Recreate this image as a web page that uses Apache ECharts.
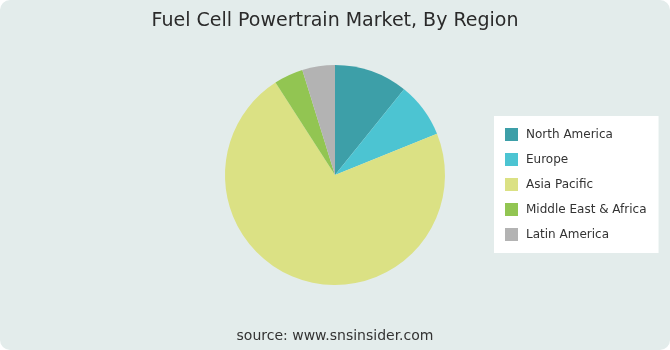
<!DOCTYPE html>
<html><head><meta charset="utf-8">
<script src="https://cdn.jsdelivr.net/npm/echarts@6/dist/echarts.min.js"></script>
<style>html,body{margin:0;padding:0;background:#fff}#c{width:670px;height:350px;background:#e3eceb;border-radius:10px;overflow:hidden}</style>
</head><body><div id="c"></div>
<script>
const categories = ["North America", "Europe", "Asia Pacific", "Middle East & Africa", "Latin America"];
const values = [10.8, 8.1, 72.0, 4.3, 4.8];
const colors = ["#3d9fa8", "#4cc4d2", "#dbe184", "#92c552", "#b3b3b3"];
const titleText = "Fuel Cell Powertrain Market, By Region";
const sourceText = "source: www.snsinsider.com";

const chart = echarts.init(document.getElementById('c'), null, {renderer: 'canvas'});
chart.setOption({
  backgroundColor: 'transparent',
  animation: false,
  color: colors,
  title: {
    text: titleText, left: 'center', top: 7,
    textStyle: {fontFamily: 'DejaVu Sans', fontSize: 19, fontWeight: 'normal', color: '#2a2a2a'}
  },
  legend: {
    orient: 'vertical', left: 494, top: 116,
    backgroundColor: '#ffffff',
    padding: [12, 12, 12, 11],
    itemWidth: 13, itemHeight: 13, itemGap: 12,
    icon: 'rect',
    textStyle: {fontFamily: 'DejaVu Sans', fontSize: 12, color: '#333', padding: [0, 0, 0, 3]},
    data: categories
  },
  graphic: [{
    type: 'text', left: 'center', top: 329,
    style: {text: sourceText, fontFamily: 'DejaVu Sans', fontSize: 14, fill: '#333'}
  }],
  series: [{
    type: 'pie', center: [335, 175], radius: 110, startAngle: 90, clockwise: true,
    label: {show: false}, labelLine: {show: false},
    emphasis: {disabled: true},
    data: categories.map((n, i) => ({name: n, value: values[i]}))
  }]
});
</script></body></html>
